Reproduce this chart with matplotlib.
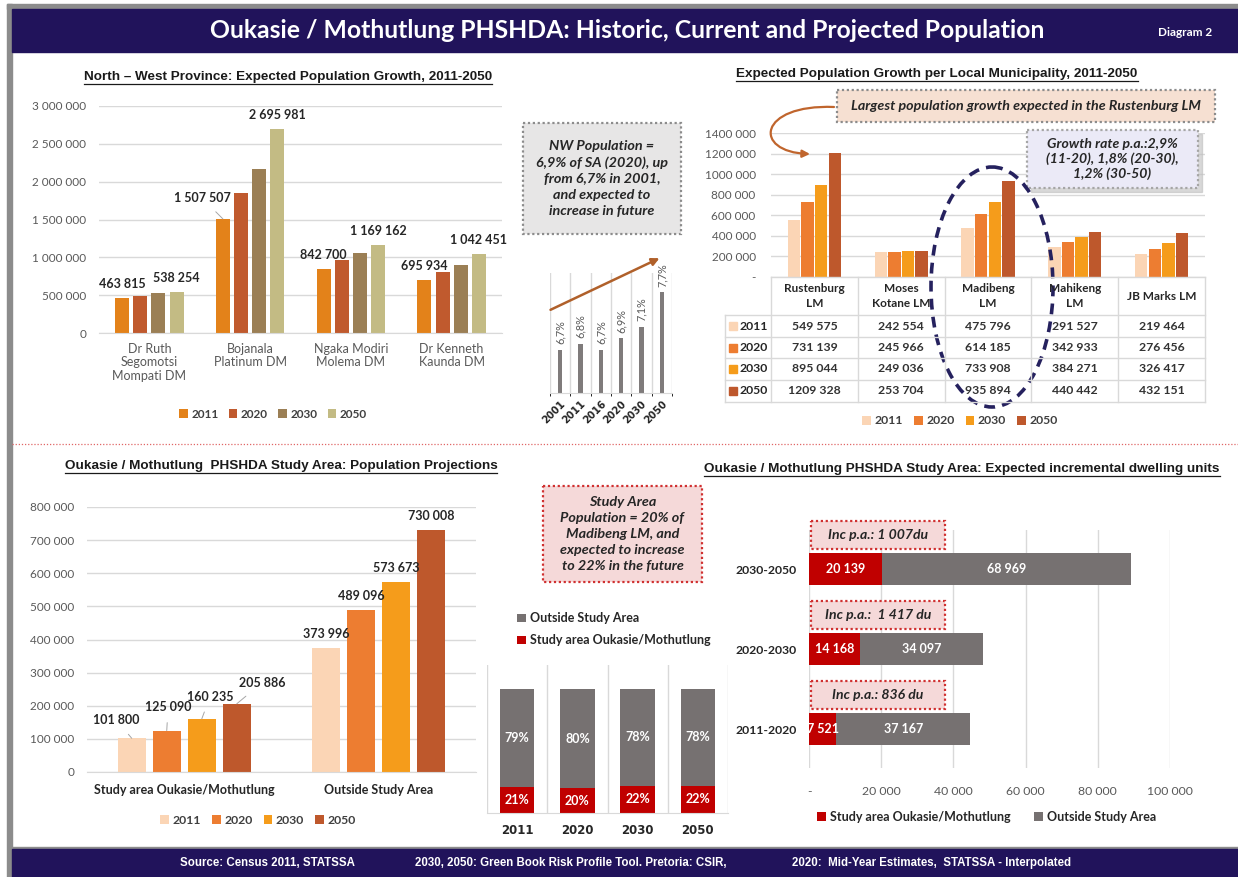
import numpy as np
import matplotlib
matplotlib.use('Agg')
import matplotlib.pyplot as plt
from matplotlib.patches import Rectangle, Ellipse, FancyArrowPatch
from matplotlib.path import Path

# ---- data ----
dm_names = ['Dr Ruth\nSegomotsi\nMompati DM', 'Bojanala\nPlatinum DM',
            'Ngaka Modiri\nMolema DM', 'Dr Kenneth\nKaunda DM']
dm_2011 = [463815, 1507507, 842700, 695934]
dm_2020 = [487000, 1855000, 960000, 810000]
dm_2030 = [530000, 2165000, 1062000, 903000]
dm_2050 = [538254, 2695981, 1169162, 1042451]

nw_years = ['2001', '2011', '2016', '2020', '2030', '2050']
nw_share = [6.7, 6.8, 6.7, 6.9, 7.1, 7.7]

lm_names = ['Rustenburg\nLM', 'Moses\nKotane LM', 'Madibeng\nLM', 'Mahikeng\nLM', 'JB Marks LM']
lm_2011 = [549575, 242554, 475796, 291527, 219464]
lm_2020 = [731139, 245966, 614185, 342933, 276456]
lm_2030 = [895044, 249036, 733908, 384271, 326417]
lm_2050 = [1209328, 253704, 935894, 440442, 432151]

sa_groups = ['Study area Oukasie/Mothutlung', 'Outside Study Area']
sa_2011 = [101800, 373996]
sa_2020 = [125090, 489096]
sa_2030 = [160235, 573673]
sa_2050 = [205886, 730008]

share_years = ['2011', '2020', '2030', '2050']
share_study = [21, 20, 22, 22]
share_outside = [79, 80, 78, 78]

du_periods = ['2011-2020', '2020-2030', '2030-2050']
du_study = [7521, 14168, 20139]
du_outside = [37167, 34097, 68969]
du_inc_pa = ['Inc p.a.: 836 du', 'Inc p.a.:  1 417 du', 'Inc p.a.: 1 007du']

years = ['2011', '2020', '2030', '2050']

# ---- styling ----
plt.rcParams['font.family'] = ['Lato', 'DejaVu Sans']
W, H = 1238, 877
NAVY = '#21135B'
GRID = '#D9D9D9'
TICK = '#595959'
DARK = '#262626'
dm_colors = ['#E3821A', '#C05A2E', '#9B7F55', '#C3BB84']
lm_colors = ['#FBD5B5', '#ED7D31', '#F59C1B', '#BE582C']
RED = '#C00000'
GREY = '#767171'


def sp(v):
    return f'{v:,.0f}'.replace(',', ' ')


def tbl(v):
    if v == 0:
        return '-'
    v = int(v)
    if v < 1000:
        return str(v)
    return f'{v // 1000} {v % 1000:03d}'


fig = plt.figure(figsize=(W / 100, H / 100), dpi=100)


def add_ax(x0, y0, x1, y1):
    return fig.add_axes([x0 / W, 1 - y1 / H, (x1 - x0) / W, (y1 - y0) / H])


def clean(ax, grid_axis='y'):
    for s in ['top', 'right', 'left']:
        ax.spines[s].set_visible(False)
    ax.spines['bottom'].set_color(GRID)
    ax.grid(axis=grid_axis, color=GRID, lw=1)
    ax.set_axisbelow(True)
    ax.tick_params(length=0, labelsize=8.5, labelcolor=TICK)


ov = fig.add_axes([0, 0, 1, 1], zorder=10)
ov.set_xlim(0, W)
ov.set_ylim(H, 0)
ov.axis('off')

# frame, banners, divider
ov.add_patch(Rectangle((7, 4), W, 5, color='#8C8C8C'))
ov.add_patch(Rectangle((7, 4), 5, H, color='#8C8C8C'))
ov.add_patch(Rectangle((12, 9), W, 43, color=NAVY))
ov.add_patch(Rectangle((12, 847), W, 2, color='#8C8C8C'))
ov.add_patch(Rectangle((12, 849), W, 30, color=NAVY))
ov.text(627, 31, 'Oukasie / Mothutlung PHSHDA: Historic, Current and Projected Population',
        color='white', fontsize=17.8, fontweight='bold', ha='center', va='center')
ov.text(1185, 32, 'Diagram 2', color='white', fontsize=8.5, fontweight='bold',
        ha='center', va='center')
foot = dict(color='white', fontsize=8.3, fontweight='bold', va='center',
            family=['Liberation Sans Narrow', 'Liberation Sans'])
ov.text(267, 863, 'Source: Census 2011, STATSSA', ha='center', **foot)
ov.text(571, 863, '2030, 2050: Green Book Risk Profile Tool. Pretoria: CSIR,', ha='center', **foot)
ov.text(932, 863, '2020:  Mid-Year Estimates,  STATSSA - Interpolated', ha='center', **foot)
ov.plot([12, W], [444, 444], color='#E06666', lw=0.9, ls=(0, (1, 1.5)))

titles = []
tkw = dict(fontsize=9.7, fontweight='bold', family=['Liberation Sans'], color='#1A1A1A',
           ha='center', va='center')
titles.append(ov.text(288, 77, 'North \u2013 West Province: Expected Population Growth, 2011-2050', **tkw))
titles.append(ov.text(937, 74, 'Expected Population Growth per Local Municipality, 2011-2050', **tkw))
titles.append(ov.text(281, 466, 'Oukasie / Mothutlung  PHSHDA Study Area: Population Projections', **tkw))
titles.append(ov.text(962, 469, 'Oukasie / Mothutlung PHSHDA Study Area: Expected incremental dwelling units', **tkw))


def note_box(x0, y0, x1, y1, text, fc, ec, size=10.4, ls=1.4, shadow=False):
    if shadow:
        ov.add_patch(Rectangle((x0 + 4, y0 + 4), x1 - x0, y1 - y0, color='#BFBFBF', alpha=0.6))
    ov.add_patch(Rectangle((x0, y0), x1 - x0, y1 - y0, fc=fc, ec=ec, lw=1.6,
                           ls=(0, (1, 1.2))))
    ov.text((x0 + x1) / 2, (y0 + y1) / 2, text, ha='center', va='center', fontsize=size,
            fontweight='bold', style='italic', color=DARK, linespacing=ls)


# ---- panel 1: NW district municipalities ----
ax1 = add_ax(99, 106, 502, 333)
clean(ax1)
x = np.arange(len(dm_names)) + 0.5
off = (np.arange(4) - 1.5) * 0.18
for j, vals in enumerate([dm_2011, dm_2020, dm_2030, dm_2050]):
    ax1.bar(x + off[j], vals, width=0.14, color=dm_colors[j], label=years[j])
ax1.set_xlim(0, len(dm_names))
ax1.set_ylim(0, 3e6)
yt = np.arange(0, 3e6 + 1, 5e5)
ax1.set_yticks(yt)
ax1.set_yticklabels([sp(v) for v in yt])
ax1.set_xticks(x)
ax1.set_xticklabels(dm_names, linespacing=1.15, fontsize=9)
ax1.tick_params(axis='y', pad=9)
ax1.tick_params(axis='x', pad=7)
for j, vals in [(0, dm_2011), (3, dm_2050)]:
    for i, v in enumerate(vals):
        if i == 1 and j == 0:
            ax1.annotate(sp(v), (x[i] + off[j], v), xytext=(-15, 15), textcoords='offset points',
                         ha='center', va='center', fontsize=9, fontweight='bold', color=DARK,
                         arrowprops=dict(arrowstyle='-', color='#A6A6A6', lw=0.7, shrinkA=5, shrinkB=0))
        else:
            ax1.annotate(sp(v), (x[i] + off[j], v), xytext=(0, 10), textcoords='offset points',
                         ha='center', va='center', fontsize=9, fontweight='bold', color=DARK)
fig.legend(*ax1.get_legend_handles_labels(), loc='center', bbox_to_anchor=(273 / W, 1 - 414 / H),
           ncol=4, frameon=False, handlelength=0.7, handleheight=0.7, handletextpad=0.3,
           columnspacing=0.9, prop=dict(size=8.5, weight='bold'), labelcolor='#404040')

# ---- panel 2: NW share of SA ----
note_box(523, 123, 681, 234,
         'NW Population =\n6,9% of SA (2020), up\nfrom 6,7% in 2001,\nand expected to\nincrease in future',
         '#E7E6E6', '#8C8C8C')
ax2 = add_ax(550, 273, 672, 393)
xs = np.arange(len(nw_years))
ax2.bar(xs, nw_share, width=0.2, color='#7F7B7B')
ax2.set_xlim(-0.5, len(nw_years) - 0.5)
ax2.set_ylim(5.94, 8.04)
for s in ['top', 'right', 'left']:
    ax2.spines[s].set_visible(False)
ax2.spines['bottom'].set_color(GRID)
ax2.set_yticks([])
ax2.set_xticks(np.arange(-0.5, len(nw_years)), minor=True)
ax2.grid(axis='x', which='minor', color=GRID, lw=1)
ax2.set_xticks(xs)
ax2.set_xticklabels(nw_years, rotation=45, ha='right', rotation_mode='anchor',
                    fontsize=7.2, fontweight='bold', color=DARK, family=['DejaVu Sans'])
ax2.tick_params(length=0, pad=4)
for i, v in enumerate(nw_share):
    ax2.annotate(f'{v:.1f}%'.replace('.', ','), (xs[i], v), xytext=(0, 4), textcoords='offset points',
                 rotation=90, ha='center', va='bottom', fontsize=7.8, color=TICK)
ov.add_patch(FancyArrowPatch((548, 311), (662, 257), arrowstyle='-|>', mutation_scale=11,
                             color='#B0602A', lw=1.8))

# ---- panel 3: local municipalities + table ----
note_box(837, 90, 1215, 122, 'Largest population growth expected in the Rustenburg LM',
         '#F6E0D2', '#8C8C8C', size=10.3)
ax3 = add_ax(771, 133, 1205, 277)
clean(ax3)
x = np.arange(len(lm_names)) + 0.5
lm_series = [lm_2011, lm_2020, lm_2030, lm_2050]
for j, vals in enumerate(lm_series):
    ax3.bar(x + off[j] * 0.87, vals, width=0.144, color=lm_colors[j], label=years[j])
ax3.set_xlim(0, len(lm_names))
ax3.set_ylim(0, 1.4e6)
yt = np.arange(0, 1.4e6 + 1, 2e5)
ax3.set_yticks(yt)
ax3.set_yticklabels([tbl(v) for v in yt])
ax3.set_xticks([])
ax3.tick_params(axis='y', pad=11)
ax3.spines['bottom'].set_visible(False)

col_w = (1205 - 771) / len(lm_names)
rows = [315, 337, 358, 380, 402]
for yy in [277] + rows:
    ov.plot([771 if yy == 277 else 725, 1205], [yy, yy], color=GRID, lw=1)
ov.plot([725, 725], [315, 402], color=GRID, lw=1)
for k in range(len(lm_names) + 1):
    ov.plot([771 + k * col_w] * 2, [277, 402], color=GRID, lw=1)
for k, name in enumerate(lm_names):
    ov.text(771 + (k + 0.5) * col_w, 296, name, ha='center', va='center', fontsize=8.5,
            fontweight='bold', color=DARK, linespacing=1.35)
for r, vals in enumerate(lm_series):
    yc = (rows[r] + rows[r + 1]) / 2
    ov.add_patch(Rectangle((729, yc - 4), 8, 8, color=lm_colors[r]))
    ov.text(740, yc, years[r], ha='left', va='center', fontsize=8.8, fontweight='bold', color=DARK)
    for k, v in enumerate(vals):
        ov.text(771 + (k + 0.5) * col_w, yc, tbl(v), ha='center', va='center', fontsize=8.8,
                fontweight='bold', color='#333333')

note_box(1027, 130, 1198, 188, 'Growth rate p.a.:2,9%\n(11-20), 1,8% (20-30),\n1,2% (30-50)',
         '#EBEAF7', '#A6A6A6', size=10.1, ls=1.25, shadow=True)
ov.add_patch(Ellipse((992, 287), 122, 240, fill=False, ec='#25215E', lw=2.6, ls=(0, (3, 2))))
arc = Path([(834, 107), (758, 104), (752, 152), (810, 154)],
           [Path.MOVETO, Path.CURVE4, Path.CURVE4, Path.CURVE4])
ov.add_patch(FancyArrowPatch(path=arc, arrowstyle='-|>', mutation_scale=11, color='#C0652D', lw=1.6))
fig.legend(*ax3.get_legend_handles_labels(), loc='center', bbox_to_anchor=(960 / W, 1 - 421 / H),
           ncol=4, frameon=False, handlelength=0.7, handleheight=0.7, handletextpad=0.3,
           columnspacing=0.9, prop=dict(size=8.8, weight='bold'), labelcolor='#404040')

# ---- panel 4: study area projections ----
ax4 = add_ax(87, 507, 476, 772)
clean(ax4)
x = np.arange(len(sa_groups)) + 0.5
sa_series = [sa_2011, sa_2020, sa_2030, sa_2050]
for j, vals in enumerate(sa_series):
    ax4.bar(x + off[j], vals, width=0.144, color=lm_colors[j], label=years[j])
ax4.set_xlim(0, len(sa_groups))
ax4.set_ylim(0, 8e5)
yt = np.arange(0, 8e5 + 1, 1e5)
ax4.set_yticks(yt)
ax4.set_yticklabels([sp(v) for v in yt])
ax4.set_xticks(x)
ax4.set_xticklabels(sa_groups, fontweight='bold', color=DARK, fontsize=9)
ax4.tick_params(axis='y', pad=9)
ax4.tick_params(axis='x', pad=9)
lead = [(-11, 13), (1, 17), (6, 16), (18, 15)]
for j, vals in enumerate(sa_series):
    ax4.annotate(sp(vals[0]), (x[0] + off[j], vals[0]), xytext=lead[j], textcoords='offset points',
                 ha='center', va='center', fontsize=9, fontweight='bold', color=DARK,
                 arrowprops=dict(arrowstyle='-', color='#A6A6A6', lw=0.7, shrinkA=5, shrinkB=0))
    ax4.annotate(sp(vals[1]), (x[1] + off[j], vals[1]), xytext=(0, 10), textcoords='offset points',
                 ha='center', va='center', fontsize=9, fontweight='bold', color=DARK)
fig.legend(*ax4.get_legend_handles_labels(), loc='center', bbox_to_anchor=(258 / W, 1 - 820 / H),
           ncol=4, frameon=False, handlelength=0.7, handleheight=0.7, handletextpad=0.3,
           columnspacing=0.9, prop=dict(size=8.8, weight='bold'), labelcolor='#404040')

# ---- panel 5: study area share ----
note_box(543, 486, 702, 582,
         'Study Area\nPopulation = 20% of\nMadibeng LM, and\nexpected to increase\nto 22% in the future',
         '#F5D9D9', '#D03030', size=10.4, ls=1.38)
ax5 = add_ax(487, 665, 728, 813)
xs = np.arange(len(share_years))
b_in = ax5.bar(xs, share_study, width=0.57, color=RED, label='Study area Oukasie/Mothutlung')
b_out = ax5.bar(xs, share_outside, bottom=share_study, width=0.57, color=GREY, label='Outside Study Area')
ax5.set_xlim(-0.5, len(share_years) - 0.5)
ax5.set_ylim(0, 119.4)
for s in ['top', 'right', 'left']:
    ax5.spines[s].set_visible(False)
ax5.spines['bottom'].set_color(GRID)
ax5.set_yticks([])
ax5.set_xticks(np.arange(-0.5, len(share_years)), minor=True)
ax5.grid(axis='x', which='minor', color=GRID, lw=1)
ax5.set_xticks(xs)
ax5.set_xticklabels(share_years, fontweight='bold', fontsize=8.5, color=DARK,
                    family=['DejaVu Sans'])
ax5.tick_params(length=0, which='both', pad=8)
ax5.bar_label(b_in, labels=[f'{v}%' for v in share_study], label_type='center', color='white',
              fontsize=9, fontweight='bold')
ax5.bar_label(b_out, labels=[f'{v}%' for v in share_outside], label_type='center', color='white',
              fontsize=9, fontweight='bold')
fig.legend([b_out, b_in], ['Outside Study Area', 'Study area Oukasie/Mothutlung'], loc='upper left',
           bbox_to_anchor=(506 / W, 1 - 601 / H), ncol=1, frameon=False, handlelength=0.7,
           handleheight=0.7, handletextpad=0.3, labelspacing=0.8,
           prop=dict(size=9, weight='bold'), labelcolor=DARK)

# ---- panel 6: incremental dwelling units ----
ax6 = add_ax(809, 530, 1170, 768)
ys = np.arange(len(du_periods))
h_in = ax6.barh(ys, du_study, height=0.4, color=RED, label='Study area Oukasie/Mothutlung')
h_out = ax6.barh(ys, du_outside, left=du_study, height=0.4, color=GREY, label='Outside Study Area')
ax6.set_xlim(0, 100000)
ax6.set_ylim(-0.4875, len(du_periods) - 0.5125)
for s in ax6.spines.values():
    s.set_visible(False)
ax6.grid(axis='x', color=GRID, lw=1)
ax6.set_axisbelow(True)
xt = np.arange(0, 100001, 20000)
ax6.set_xticks(xt)
ax6.set_xticklabels([tbl(v) for v in xt])
ax6.set_yticks(ys)
ax6.set_yticklabels(du_periods, fontweight='bold', color=DARK)
ax6.tick_params(length=0, labelsize=8.8)
ax6.tick_params(axis='x', labelcolor=TICK, pad=13)
ax6.tick_params(axis='y', pad=9)
ax6.bar_label(h_in, labels=[sp(v) for v in du_study], label_type='center', color='white',
              fontsize=9, fontweight='bold')
ax6.bar_label(h_out, labels=[sp(v) for v in du_outside], label_type='center', color='white',
              fontsize=9, fontweight='bold')
for i, txt in enumerate(du_inc_pa):
    yc = 729 - 80 * i
    note_box(811, yc - 48, 945, yc - 20, txt, '#F5D9D9', '#D03030', size=10.1)
fig.legend([h_in, h_out], ['Study area Oukasie/Mothutlung', 'Outside Study Area'], loc='center left',
           bbox_to_anchor=(806 / W, 1 - 817 / H), ncol=2, frameon=False, handlelength=0.7,
           handleheight=0.7, handletextpad=0.3, columnspacing=1.9,
           prop=dict(size=9, weight='bold'), labelcolor=DARK)

# underline panel titles
fig.canvas.draw()
r = fig.canvas.get_renderer()
for t in titles:
    bb = t.get_window_extent(r)
    ov.plot([bb.x0, bb.x1], [H - bb.y0 + 1, H - bb.y0 + 1], color='#1A1A1A', lw=0.9)

fig.savefig('out.png', dpi=100)
